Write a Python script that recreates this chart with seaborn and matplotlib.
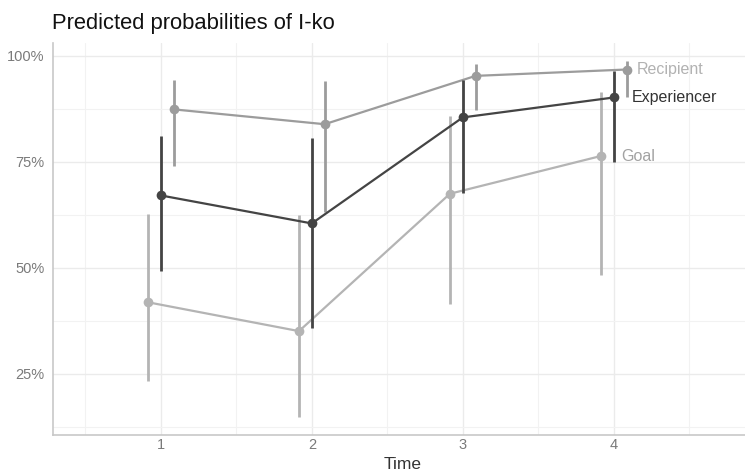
import numpy as np
import pandas as pd
import matplotlib
matplotlib.use("Agg")
import matplotlib.pyplot as plt
import seaborn as sns
from matplotlib.ticker import PercentFormatter

# ---- data ----
times = [1, 2, 3, 4]
groups = ["Goal", "Experiencer", "Recipient"]
goal_est = [0.419, 0.351, 0.675, 0.764]
goal_lo = [0.234, 0.149, 0.414, 0.484]
goal_hi = [0.628, 0.626, 0.858, 0.915]
exp_est = [0.671, 0.605, 0.855, 0.902]
exp_lo = [0.492, 0.358, 0.677, 0.750]
exp_hi = [0.811, 0.807, 0.944, 0.965]
rec_est = [0.874, 0.839, 0.953, 0.968]
rec_lo = [0.740, 0.632, 0.872, 0.903]
rec_hi = [0.944, 0.940, 0.982, 0.988]
y_ticks = [0.25, 0.50, 0.75, 1.00]

# ---- style ----
sns.set_theme(style="whitegrid")
plt.rcParams["font.family"] = ["Liberation Sans", "DejaVu Sans"]

colors = {"Goal": "#b4b4b4", "Experiencer": "#444444", "Recipient": "#9c9c9c"}
text_colors = {"Goal": "#a2a2a2", "Experiencer": "#333333", "Recipient": "#b2b2b2"}
offsets = {"Goal": -0.085, "Experiencer": 0.0, "Recipient": 0.085}
label_px = {"Goal": 20, "Experiencer": 18, "Recipient": 10}

rows = []
for g, est, lo, hi in [("Goal", goal_est, goal_lo, goal_hi),
                       ("Experiencer", exp_est, exp_lo, exp_hi),
                       ("Recipient", rec_est, rec_lo, rec_hi)]:
    for t, e, l, h in zip(times, est, lo, hi):
        rows.append(dict(group=g, time=t, xpos=t + offsets[g], prob=e, lo=l, hi=h))
df = pd.DataFrame(rows)

fig = plt.figure(figsize=(7.45, 4.75), dpi=100)
ax = fig.add_axes([0.0711, 0.0842, 0.9289, 0.8248])

zorders = {"Goal": 2, "Recipient": 3, "Experiencer": 4}
for g in groups:
    sub = df[df.group == g]
    sns.lineplot(data=sub, x="xpos", y="prob", color=colors[g], lw=1.6,
                 marker="o", markersize=7, markeredgewidth=0, ax=ax,
                 zorder=zorders[g], legend=False)
    ax.vlines(sub["xpos"], sub["lo"], sub["hi"], color=colors[g], lw=2.0,
              zorder=zorders[g])
    last = sub.iloc[-1]
    ax.annotate(g, (last["xpos"], last["prob"]), xytext=(label_px[g], 0),
                textcoords="offset pixels", ha="left", va="center",
                fontsize=11.5, color=text_colors[g])

ax.set_xlim(0.285, 4.87)
ax.set_ylim(0.106, 1.03)
ax.set_xticks(times)
ax.set_xticks([0.5, 1.5, 2.5, 3.5, 4.5], minor=True)
ax.set_yticks(y_ticks)
ax.set_yticks([0.125, 0.375, 0.625, 0.875], minor=True)
ax.yaxis.set_major_formatter(PercentFormatter(1.0, decimals=0))

ax.set_facecolor("white")
ax.grid(True, which="major", color="#ebebeb", lw=1.0)
ax.grid(True, which="minor", color="#f2f2f2", lw=0.8)
for s in ["top", "right"]:
    ax.spines[s].set_visible(False)
for s in ["left", "bottom"]:
    ax.spines[s].set_color("#c8c8c8")
    ax.spines[s].set_linewidth(1.2)

ax.tick_params(axis="both", which="both", length=0, labelsize=10.5,
               labelcolor="#7a7a7a")
ax.tick_params(axis="y", pad=6)
ax.tick_params(axis="x", pad=2)
ax.set_xlabel("Time", fontsize=12.5, color="#333333")
ax.xaxis.set_label_coords(0.505, -0.055)
ax.set_ylabel("")
ax.set_title("Predicted probabilities of I-ko", loc="left", x=-0.001,
             fontsize=15.8, color="#111111", pad=10)

fig.savefig("out.png", dpi=100)
